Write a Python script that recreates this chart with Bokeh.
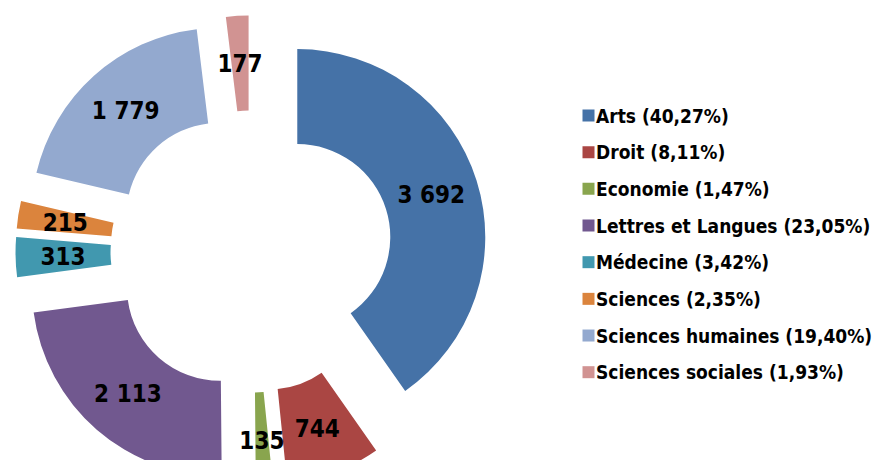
import math
from bokeh.plotting import figure
from bokeh.models import ColumnDataSource, Range1d
from bokeh.core.properties import value
from bokeh.embed import file_html
from bokeh.resources import INLINE

# ---- data ----
categories = ["Arts", "Droit", "Economie", "Lettres et Langues", "Médecine",
              "Sciences", "Sciences humaines", "Sciences sociales"]
counts = [3692, 744, 135, 2113, 313, 215, 1779, 177]
count_labels = ["3 692", "744", "135", "2 113", "313", "215", "1 779", "177"]
legend_pcts = ["40,27%", "8,11%", "1,47%", "23,05%", "3,42%", "2,35%", "19,40%", "1,93%"]
colors = ["#4572A7", "#AA4643", "#89A54E", "#71588F", "#4198AF",
          "#DB843D", "#93A9CF", "#D19392"]

# ---- layout (screen pixel coordinates, y down; data y = -screen y) ----
CX, CY = 251, 251
R_IN, R_OUT = 93, 188
EXPLODE = 48
FONT = "DejaVu Sans Condensed"

total = float(sum(counts))
xs, ys, starts, ends, lx, ly = [], [], [], [], [], []
cum = 0.0
for c in counts:
    a0 = cum / total * 2 * math.pi          # clockwise from top
    a1 = (cum + c) / total * 2 * math.pi
    mid = (a0 + a1) / 2
    dx, dy = math.sin(mid), math.cos(mid)   # dy in data (up positive)
    wx, wy = CX + EXPLODE * dx, -CY + EXPLODE * dy
    xs.append(wx)
    ys.append(wy)
    starts.append(math.pi / 2 - a0)
    ends.append(math.pi / 2 - a1)
    rm = (R_IN + R_OUT) / 2
    lx.append(wx + rm * dx)
    ly.append(wy + rm * dy)
    cum += c

src = ColumnDataSource(dict(x=xs, y=ys, start=starts, end=ends, color=colors,
                            lx=lx, ly=ly, lab=count_labels))

W, H = 881, 460
p = figure(width=W, height=H, output_backend="svg", toolbar_location=None,
           x_range=Range1d(0, W), y_range=Range1d(-H, 0),
           x_axis_type=None, y_axis_type=None, min_border=0,
           outline_line_color=None, background_fill_color="white")
p.grid.visible = False

p.annular_wedge(x="x", y="y", inner_radius=R_IN, outer_radius=R_OUT,
                start_angle="start", end_angle="end", direction="clock",
                fill_color="color", line_color=None, source=src)

p.text(x="lx", y="ly", text="lab", source=src, text_align="center",
       text_baseline="middle", text_font=value(FONT), text_font_style="bold",
       text_font_size="24px", text_color="black")

# ---- legend ----
LEG_X, LEG_Y0, LEG_DY = 588, 115, 36.67
leg_x = [LEG_X] * len(categories)
leg_y = [-(LEG_Y0 + i * LEG_DY) for i in range(len(categories))]
leg_text = [f"{c} ({pc})" for c, pc in zip(categories, legend_pcts)]
lsrc = ColumnDataSource(dict(x=leg_x, y=leg_y, tx=[LEG_X + 7.5] * len(categories),
                             color=colors, text=leg_text))
p.scatter(x="x", y="y", marker="square", size=12, fill_color="color",
          line_color=None, source=lsrc)
p.text(x="tx", y="y", text="text", source=lsrc, text_align="left",
       text_baseline="middle", text_font=value(FONT), text_font_style="bold",
       text_font_size="19px", text_color="black")

open("out.html", "w").write(file_html(p, INLINE))
